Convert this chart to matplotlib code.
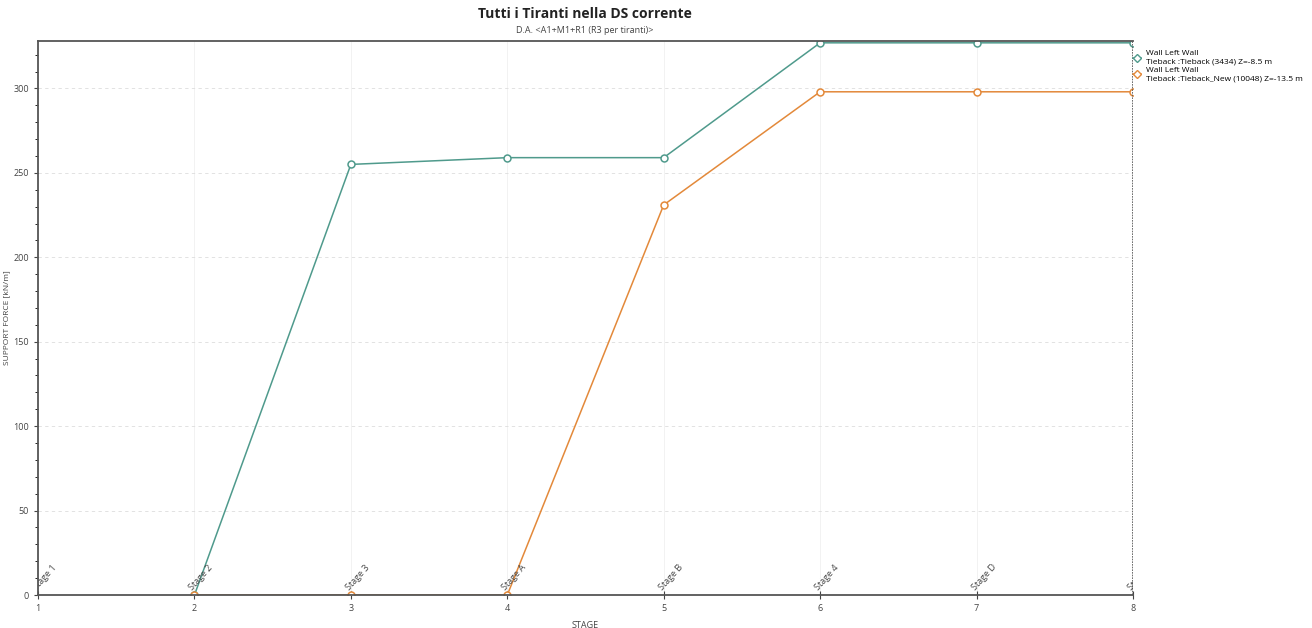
import matplotlib
matplotlib.use("Agg")
import matplotlib.pyplot as plt
from matplotlib.lines import Line2D
from matplotlib.ticker import MultipleLocator

plt.rcParams['font.family'] = ['Open Sans', 'DejaVu Sans']

# dati
stages = [1, 2, 3, 4, 5, 6, 7, 8]
stage_names = ["Stage 1", "Stage 2", "Stage 3", "Stage A", "Stage B", "Stage 4", "Stage D", "Stage C"]
x_green = [2, 3, 4, 5, 6, 7, 8]
y_green = [0, 255, 259, 259, 327, 327, 327]
x_orange = [2, 3, 4, 5, 6, 7, 8]
y_orange = [0, 0, 0, 231, 298, 298, 298]
labels = ["Wall Left Wall\nTieback :Tieback (3434) Z=-8.5 m",
          "Wall Left Wall\nTieback :Tieback_New (10048) Z=-13.5 m"]

green = '#4f9a8c'
orange = '#e3893a'

fig = plt.figure(figsize=(13.12, 6.28), dpi=100)
ax = fig.add_axes([0.029, 0.0525, 0.8345, 0.882])

ax.plot(x_green, y_green, color=green, lw=1.1, marker='o', ms=5,
        mfc='white', mec=green, mew=1.1, zorder=2)
ax.plot(x_orange, y_orange, color=orange, lw=1.1, marker='o', ms=5,
        mfc='white', mec=orange, mew=1.1, zorder=2)

ax.set_xlim(1, 8)
ax.set_ylim(0, 328)
ax.set_xticks(stages)
ax.yaxis.set_major_locator(MultipleLocator(50))
ax.yaxis.set_minor_locator(MultipleLocator(10))
ax.tick_params(axis='both', labelsize=6.5, colors='#444444', length=3, width=0.8)
ax.tick_params(axis='y', which='minor', length=2, width=0.6)
ax.tick_params(axis='x', direction='inout', length=6)

ax.grid(True, axis='y', color='#dddddd', lw=0.6, ls=(0, (4, 4)))
ax.grid(True, axis='x', color='#f0f0f0', lw=0.6)

for sp in ['left', 'bottom', 'top']:
    ax.spines[sp].set_color('#555555')
    ax.spines[sp].set_linewidth(1.3)
ax.spines['right'].set_visible(False)
ax.axvline(8, color='#555555', lw=1.2, ls=(0, (1, 0.6)), zorder=2.6)

# etichette delle fasi
for s, name in zip(stages, stage_names):
    ax.text(s, 2, name, rotation=48, fontsize=6.5, color='#444444',
            ha='left', va='bottom', rotation_mode='anchor', clip_on=True)

ax.set_xlabel("STAGE", fontsize=6.5, color='#444444', labelpad=6)
ax.set_ylabel("SUPPORT FORCE [kN/m]", fontsize=6, color='#444444', labelpad=2)

fig.text(0.446, 0.972, "Tutti i Tiranti nella DS corrente", ha='center',
         fontsize=10, fontweight='bold', color='#222222')
fig.text(0.446, 0.948, "D.A. <A1+M1+R1 (R3 per tiranti)>", ha='center',
         fontsize=6.5, color='#444444')

handles = [Line2D([], [], color=green, lw=1.1, marker='D', ms=4, mfc='white', mec=green),
           Line2D([], [], color=orange, lw=1.1, marker='D', ms=4, mfc='white', mec=orange)]
fig.legend(handles, labels, loc='upper left', bbox_to_anchor=(0.861, 0.925),
           frameon=False, fontsize=6, handlelength=1.0, handletextpad=0.6,
           labelspacing=0.2, borderaxespad=0)

plt.savefig("out.png", dpi=100)
plt.close()
